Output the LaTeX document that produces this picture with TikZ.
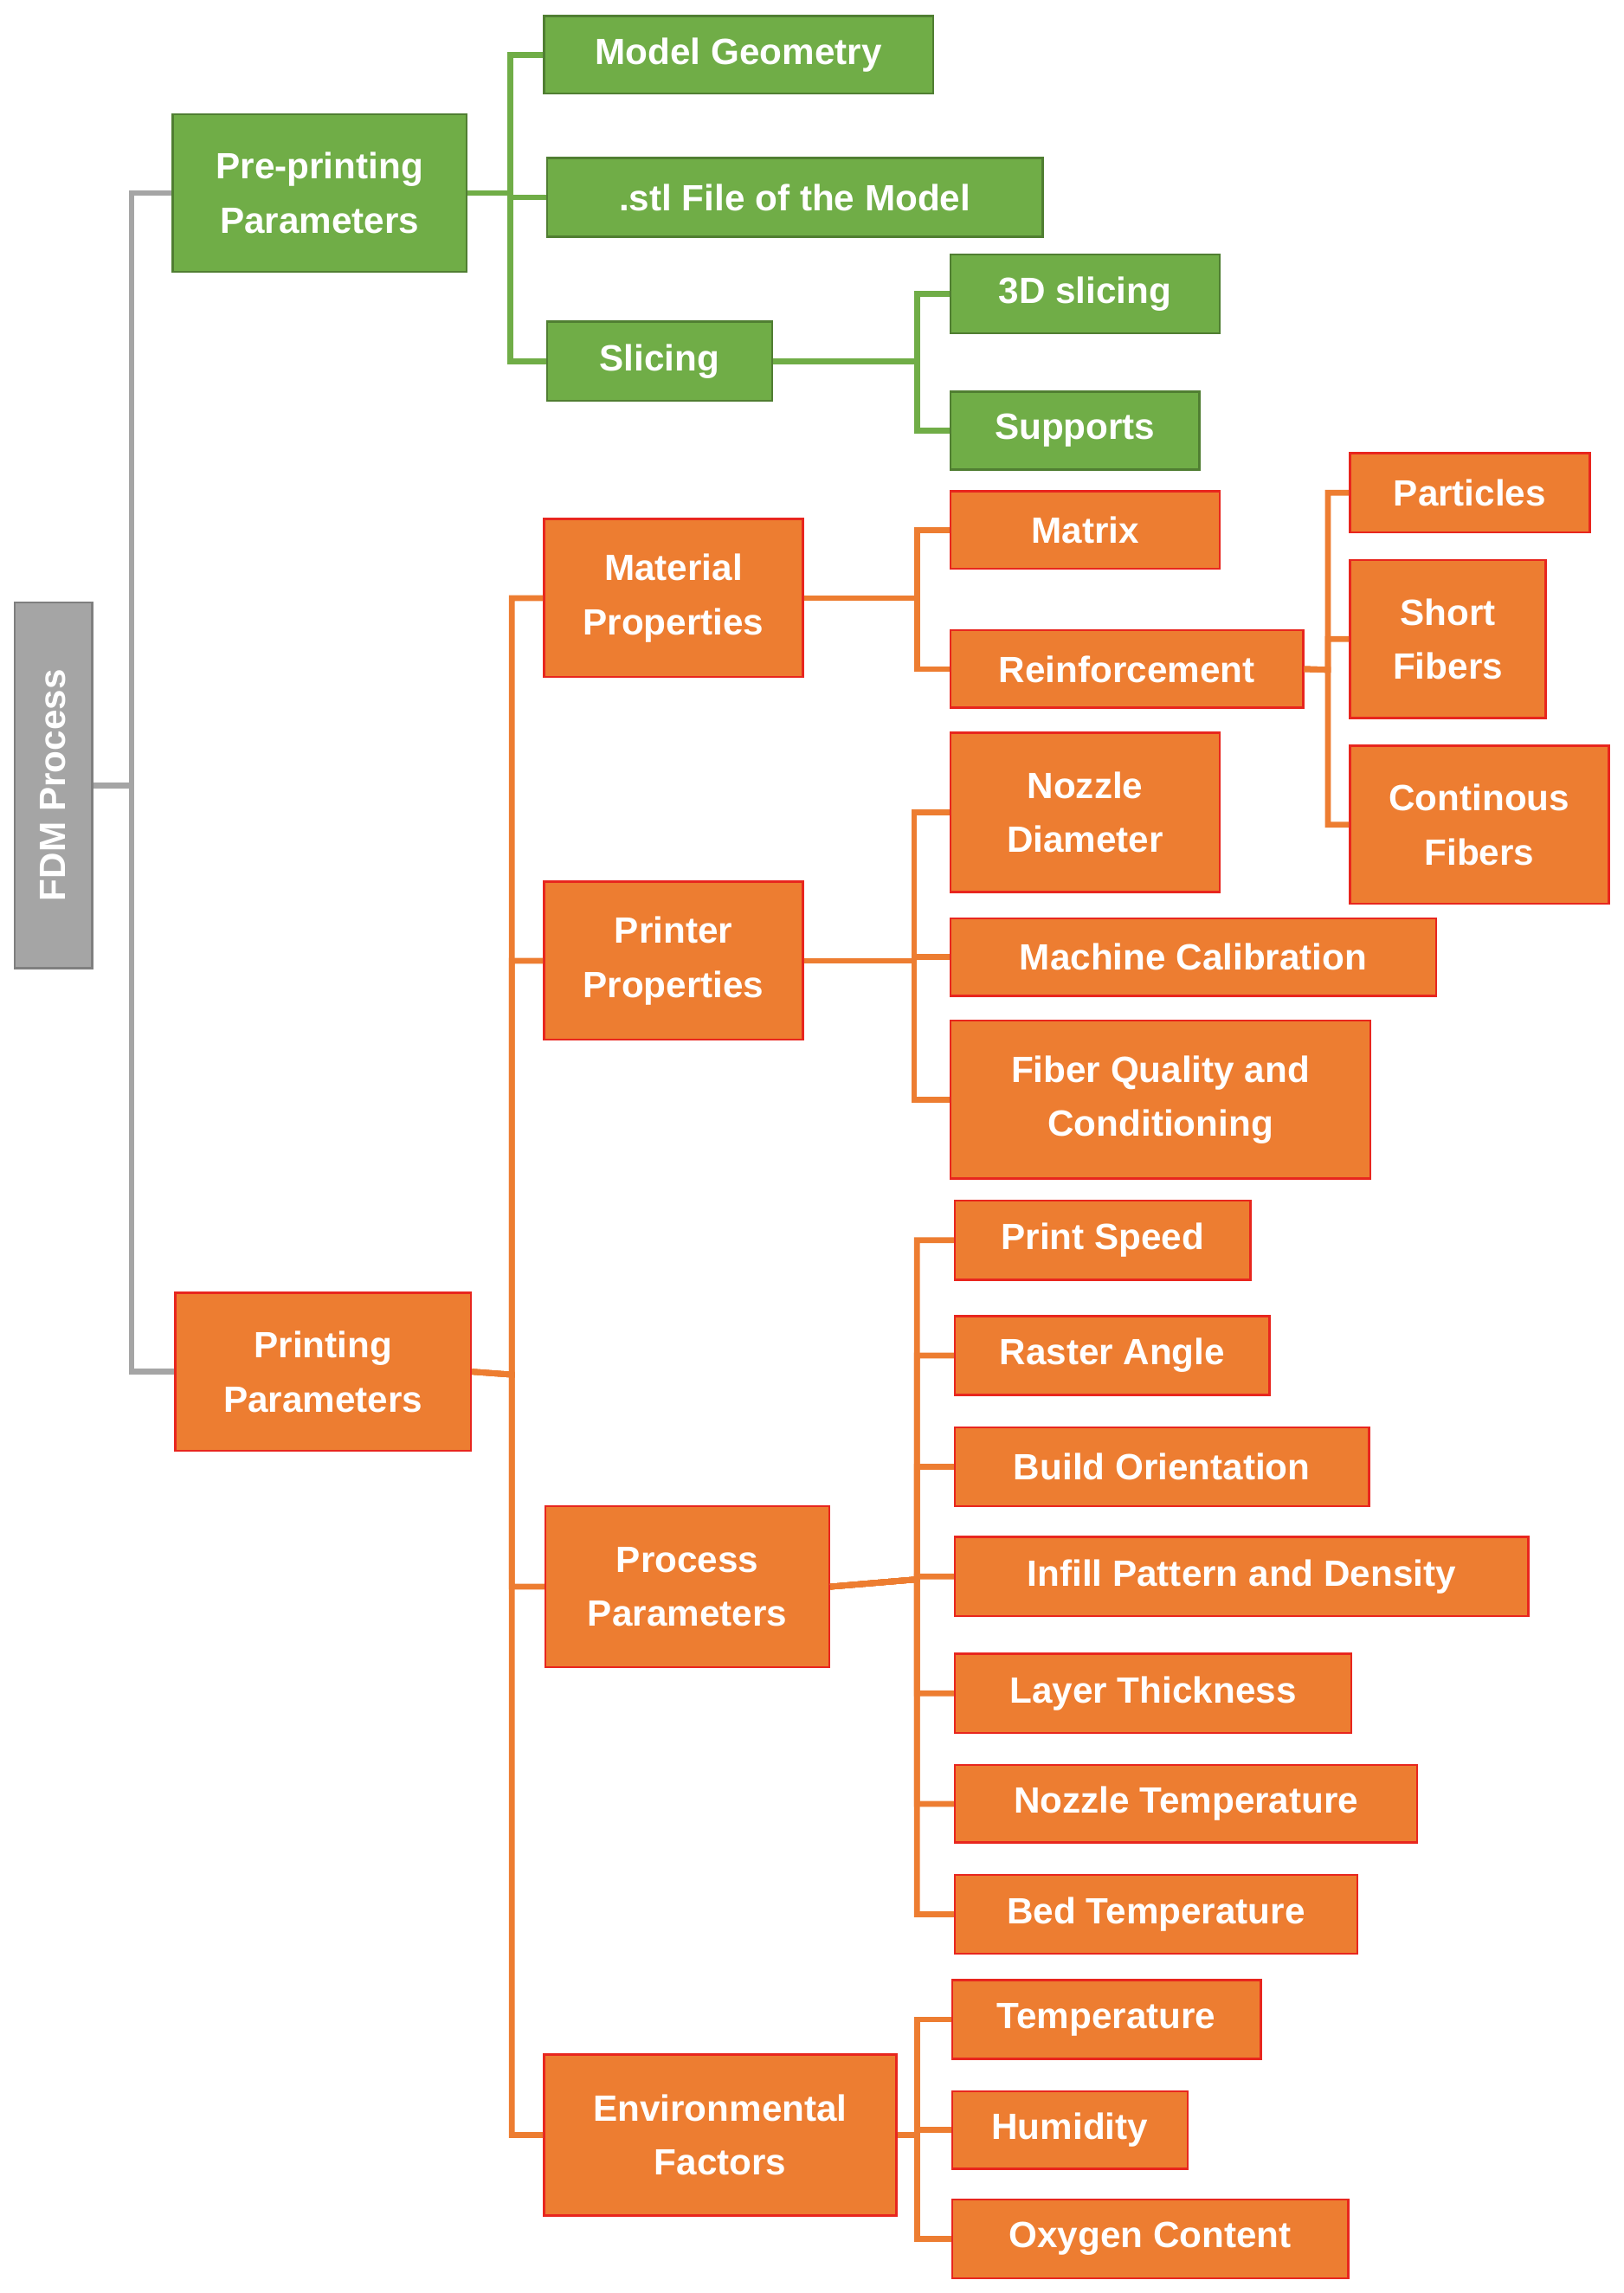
\documentclass[tikz,border=0pt]{standalone}
\usepackage{fontspec}
\setmainfont{Liberation Sans}
\begin{document}
\definecolor{gfill}{HTML}{70AD47}
\definecolor{gline}{HTML}{507E32}
\definecolor{ofill}{HTML}{ED7D31}
\definecolor{oline}{HTML}{E8261E}
\definecolor{afill}{HTML}{A5A5A5}
\definecolor{aline}{HTML}{7F7F7F}
\begin{tikzpicture}[x=1pt,y=-1pt,
  box/.style={draw,line width=1.5pt,text=white,align=center,inner sep=0pt,
    font=\bfseries\fontsize{25}{37}\selectfont},
  g/.style={box,fill=gfill,draw=gline},
  o/.style={box,fill=ofill,draw=oline},
  a/.style={box,fill=afill,draw=aline},
  gc/.style={draw=gfill,line width=4pt},
  oc/.style={draw=ofill,line width=4pt},
  ac/.style={draw=afill,line width=4pt}]
\useasboundingbox (0,0) rectangle (1110,1568);
\newcommand\bx[7]{\node[#6,minimum width={#4-#2},minimum height={#5-#3}] (#1) at ({(#2+#4)/2},{(#3+#5)/2}) {#7};}
\bx{fdm}{10}{412}{63}{662}{a}{}
\node[rotate=90,text=white,font=\bfseries\fontsize{25}{30}\selectfont] at (fdm) {FDM Process};
\bx{pre}{118}{78}{319}{186}{g}{Pre-printing\\Parameters}
\bx{mg}{372}{11}{638}{64}{g}{Model Geometry}
\bx{stl}{374}{108}{713}{162}{g}{.stl File of the Model}
\bx{sl}{374}{220}{528}{274}{g}{Slicing}
\bx{td}{650}{174}{834}{228}{g}{3D slicing}
\bx{sup}{650}{268}{820}{321}{g}{Supports}
\bx{pp}{120}{884}{322}{992}{o}{Printing\\Parameters}
\bx{mat}{372}{355}{549}{463}{o}{Material\\Properties}
\bx{prp}{372}{603}{549}{711}{o}{Printer\\Properties}
\bx{proc}{373}{1030}{567}{1140}{o}{Process\\Parameters}
\bx{env}{372}{1405}{613}{1515}{o}{Environmental\\Factors}
\bx{mx}{650}{336}{834}{389}{o}{Matrix}
\bx{rf}{650}{431}{891}{484}{o}{Reinforcement}
\bx{pa}{923}{310}{1087}{364}{o}{Particles}
\bx{sf}{923}{383}{1057}{491}{o}{Short\\Fibers}
\bx{cf}{923}{510}{1100}{618}{o}{Continous\\Fibers}
\bx{nd}{650}{501}{834}{610}{o}{Nozzle\\Diameter}
\bx{mc}{650}{628}{982}{681}{o}{Machine Calibration}
\bx{fq}{650}{698}{937}{806}{o}{Fiber Quality and\\Conditioning}
\bx{ps}{653}{821}{855}{875}{o}{Print Speed}
\bx{ra}{653}{900}{868}{954}{o}{Raster Angle}
\bx{bo}{653}{976}{936}{1030}{o}{Build Orientation}
\bx{ip}{653}{1051}{1045}{1105}{o}{Infill Pattern and Density}
\bx{lt}{653}{1131}{924}{1185}{o}{Layer Thickness}
\bx{nt}{653}{1207}{969}{1260}{o}{Nozzle Temperature}
\bx{bt}{653}{1282}{928}{1336}{o}{Bed Temperature}
\bx{te}{651}{1354}{862}{1408}{o}{Temperature}
\bx{hu}{651}{1430}{812}{1483}{o}{Humidity}
\bx{ox}{651}{1504}{922}{1558}{o}{Oxygen Content}
\begin{scope}[on background layer/.style={}]
\foreach \c in {pre,pp} \draw[ac] (fdm.east) -- (90,537) |- (\c.west);
\foreach \c in {mg,stl,sl} \draw[gc] (pre.east) -- (349,132) |- (\c.west);
\foreach \c in {td,sup} \draw[gc] (sl.east) -- (627,247) |- (\c.west);
\foreach \c in {mat,prp,proc,env} \draw[oc] (pp.east) -- (350,940) |- (\c.west);
\foreach \c in {mx,rf} \draw[oc] (mat.east) -- (627,409) |- (\c.west);
\foreach \c in {pa,sf,cf} \draw[oc] (rf.east) -- (908,458) |- (\c.west);
\foreach \c in {nd,mc,fq} \draw[oc] (prp.east) -- (625,657) |- (\c.west);
\foreach \c in {ps,ra,bo,ip,lt,nt,bt} \draw[oc] (proc.east) -- (627,1080) |- (\c.west);
\foreach \c in {te,hu,ox} \draw[oc] (env.east) -- (627,1460) |- (\c.west);
\end{scope}
\end{tikzpicture}
\end{document}
